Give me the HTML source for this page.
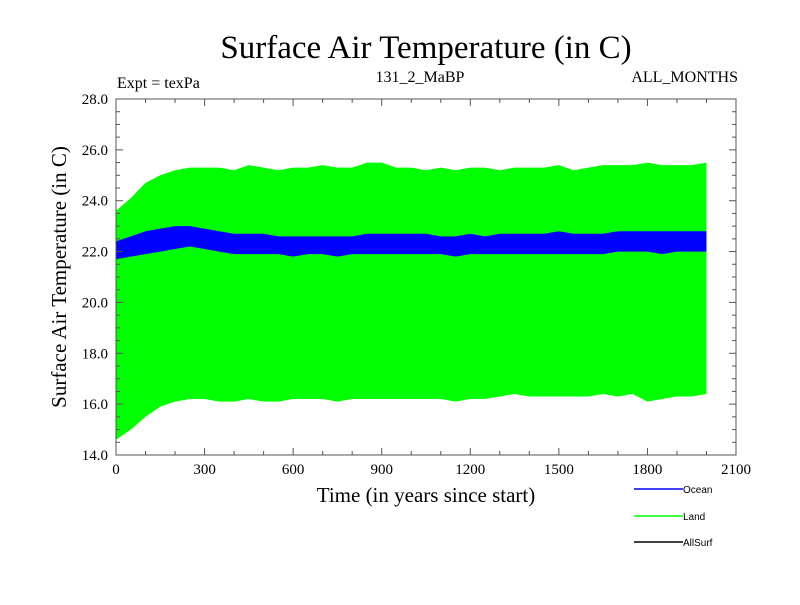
<!DOCTYPE html>
<html><head><meta charset="utf-8"><style>
body{margin:0;background:#fff;width:800px;height:600px;overflow:hidden}
svg text{font-family:"Liberation Serif",serif;fill:#000}
</style></head><body>
<svg id="c" width="800" height="600">
<text x="426" y="58" font-size="33" text-anchor="middle">Surface Air Temperature (in C)</text>
<text x="117" y="88" font-size="16">Expt = texPa</text>
<text x="420" y="82" font-size="16" text-anchor="middle">131_2_MaBP</text>
<text x="738" y="82" font-size="16" text-anchor="end">ALL_MONTHS</text>
<text transform="translate(66,277) rotate(-90)" font-size="21" text-anchor="middle">Surface Air Temperature (in C)</text>
<text x="426" y="502" font-size="21" text-anchor="middle">Time (in years since start)</text>
<g id="marks"></g>
<g id="axes"></g>
<g>
<line x1="634" y1="489" x2="683" y2="489" stroke="#0000ff" stroke-width="1.5"/>
<text x="683" y="493" font-size="10" style="font-family:'Liberation Sans',sans-serif">Ocean</text>
<line x1="634" y1="516" x2="683" y2="516" stroke="#00ff00" stroke-width="1.5"/>
<text x="683" y="520" font-size="10" style="font-family:'Liberation Sans',sans-serif">Land</text>
<line x1="634" y1="542" x2="683" y2="542" stroke="#000" stroke-width="1.5"/>
<text x="683" y="546" font-size="10" style="font-family:'Liberation Sans',sans-serif">AllSurf</text>
</g>
</svg>
<script>
const years=[0,50,100,150,200,250,300,350,400,450,500,550,600,650,700,750,800,850,900,950,1000,1050,1100,1150,1200,1250,1300,1350,1400,1450,1500,1550,1600,1650,1700,1750,1800,1850,1900,1950,2000];
const landMax=[23.6,24.1,24.7,25.0,25.2,25.3,25.3,25.3,25.2,25.4,25.3,25.2,25.3,25.3,25.4,25.3,25.3,25.5,25.5,25.3,25.3,25.2,25.3,25.2,25.3,25.3,25.2,25.3,25.3,25.3,25.4,25.2,25.3,25.4,25.4,25.4,25.5,25.4,25.4,25.4,25.5];
const landMin=[14.6,15.0,15.5,15.9,16.1,16.2,16.2,16.1,16.1,16.2,16.1,16.1,16.2,16.2,16.2,16.1,16.2,16.2,16.2,16.2,16.2,16.2,16.2,16.1,16.2,16.2,16.3,16.4,16.3,16.3,16.3,16.3,16.3,16.4,16.3,16.4,16.1,16.2,16.3,16.3,16.4];
const oceanMax=[22.4,22.6,22.8,22.9,23.0,23.0,22.9,22.8,22.7,22.7,22.7,22.6,22.6,22.6,22.6,22.6,22.6,22.7,22.7,22.7,22.7,22.7,22.6,22.6,22.7,22.6,22.7,22.7,22.7,22.7,22.8,22.7,22.7,22.7,22.8,22.8,22.8,22.8,22.8,22.8,22.8];
const oceanMin=[21.7,21.8,21.9,22.0,22.1,22.2,22.1,22.0,21.9,21.9,21.9,21.9,21.8,21.9,21.9,21.8,21.9,21.9,21.9,21.9,21.9,21.9,21.9,21.8,21.9,21.9,21.9,21.9,21.9,21.9,21.9,21.9,21.9,21.9,22.0,22.0,22.0,21.9,22.0,22.0,22.0];
const xTicks=[0,300,600,900,1200,1500,1800,2100];
const yTicks=[14,16,18,20,22,24,26,28];
const X0=116,X1=736,Y0=455,Y1=99;
const sx=v=>X0+(v-0)/(2100-0)*(X1-X0);
const sy=v=>Y0-(v-14)/(28-14)*(Y0-Y1);
const NS='http://www.w3.org/2000/svg';
const marks=document.getElementById('marks'),axes=document.getElementById('axes');
function band(hi,lo,color,name){
  let pts=years.map((y,i)=>sx(y)+','+sy(hi[i]));
  for(let i=years.length-1;i>=0;i--)pts.push(sx(years[i])+','+sy(lo[i]));
  const p=document.createElementNS(NS,'polygon');
  p.setAttribute('points',pts.join(' '));p.setAttribute('fill',color);
  
  
  marks.appendChild(p);
}
band(landMax,landMin,'#00ff00','land-series');
band(oceanMax,oceanMin,'#0000ff','ocean-series');
function ln(x1,y1,x2,y2,name){const l=document.createElementNS(NS,'line');
 l.setAttribute('x1',x1);l.setAttribute('y1',y1);l.setAttribute('x2',x2);l.setAttribute('y2',y2);
 l.setAttribute('stroke','#555');l.setAttribute('stroke-width','1');
 
 
 axes.appendChild(l);}
const r=document.createElementNS(NS,'rect');
r.setAttribute('x',X0);r.setAttribute('y',Y1);r.setAttribute('width',X1-X0);r.setAttribute('height',Y0-Y1);
r.setAttribute('fill','none');r.setAttribute('stroke','#555');


axes.appendChild(r);
for(let v=0;v<=2100;v+=100){const L=v%300===0?7:4;const x=sx(v);ln(x,Y0,x,Y0-L,'x-tick');ln(x,Y1,x,Y1+L,'x-tick-top');}
for(let v=14;v<=28.001;v+=0.5){const L=Math.abs(v-Math.round(v/2)*2)<1e-6?7:4;const y=sy(v);ln(X0,y,X0+L,y,'y-tick');ln(X1,y,X1-L,y,'y-tick-right');}
xTicks.forEach(v=>{const t=document.createElementNS(NS,'text');t.setAttribute('x',sx(v));t.setAttribute('y',Y0+19);
 t.setAttribute('font-size','15');t.setAttribute('text-anchor','middle');t.textContent=v;
 
 
 axes.appendChild(t);});
yTicks.forEach(v=>{const t=document.createElementNS(NS,'text');t.setAttribute('x',X0-8);t.setAttribute('y',sy(v)+5);
 t.setAttribute('font-size','15');t.setAttribute('text-anchor','end');t.textContent=v.toFixed(1);
 
 
 axes.appendChild(t);});
</script>
</body></html>
